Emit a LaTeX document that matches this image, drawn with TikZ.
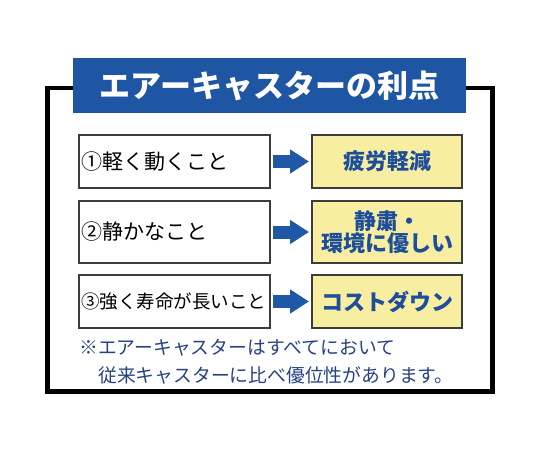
\documentclass[tikz,border=0pt]{standalone}
\usepackage{fontspec}
\usepackage{xcolor}
\usepackage{tikz}
\usetikzlibrary{positioning}
\usetikzlibrary{arrows.meta}
\newfontfamily\jpfont{Noto Sans CJK JP}
\definecolor{titleblue}{RGB}{31,86,164}
\definecolor{arrowblue}{RGB}{30,88,166}
\definecolor{effectblue}{RGB}{29,78,155}
\definecolor{noteblue}{RGB}{38,66,128}
\definecolor{effectyellow}{RGB}{248,238,162}
\definecolor{boxgray}{RGB}{60,60,60}
\tikzset{%
  framebox/.style={rectangle,draw=black,line width=4.5pt,minimum width=445pt,minimum height=303.5pt,inner sep=0pt},
  titlebox/.style={rectangle,fill=titleblue,text=white,minimum width=393pt,minimum height=55pt,inner sep=0pt,font=\jpfont\bfseries\fontsize{31}{34}\selectfont},
  causebox/.style={rectangle,draw=boxgray,line width=1.2pt,fill=white,outer sep=0pt,minimum height=53pt,inner sep=2pt,text width=187pt,align=left,font=\jpfont\fontsize{21}{24}\selectfont},
  effectbox/.style={rectangle,draw=boxgray,line width=1.2pt,fill=effectyellow,outer sep=0pt,minimum width=150pt,minimum height=53pt,inner sep=0pt,align=center,text=effectblue,font=\jpfont\bfseries\fontsize{22}{22.5}\selectfont\setlength{\lineskiplimit}{-10pt}},
  bigarrow/.style={draw=arrowblue,line width=13pt,-{Triangle[length=19pt,width=23pt]},shorten <=3pt,shorten >=3pt},
  notetext/.style={align=left,inner sep=0pt,text=noteblue,font=\jpfont\fontsize{18.8}{28}\selectfont}
}

\begin{document}
\begin{tikzpicture}[x=1pt,y=-1pt,node distance=42pt]
    \useasboundingbox (0,0) rectangle (540,450);
    \node[framebox](frame) at (270,239.75){};
    \node[titlebox](title) at (269.5,85.5){エアーキャスターの利点};
    % rows
    \node[causebox](cause1) at (174.5,161.5){①軽く動くこと};
    \node[causebox,minimum height=62pt,below=13pt of cause1](cause2){②静かなこと};
    \node[causebox,below=12pt of cause2,font=\jpfont\fontsize{18.5}{22}\selectfont](cause3){③強く寿命が長いこと};
    \node[effectbox,right=of cause1](effect1){疲労軽減};
    \node[effectbox,minimum height=62pt,right=of cause2](effect2){静粛・\\環境に優しい};
    \node[effectbox,right=of cause3](effect3){コストダウン};
    \draw[bigarrow](cause1)--(effect1);
    \draw[bigarrow](cause2)--(effect2);
    \draw[bigarrow](cause3)--(effect3);
    \node[notetext,anchor=base west](note) at (79,382){※エアーキャスターはすべてにおいて\\\hspace*{19pt}従来キャスターに比べ優位性があります。};
\end{tikzpicture}
\end{document}
